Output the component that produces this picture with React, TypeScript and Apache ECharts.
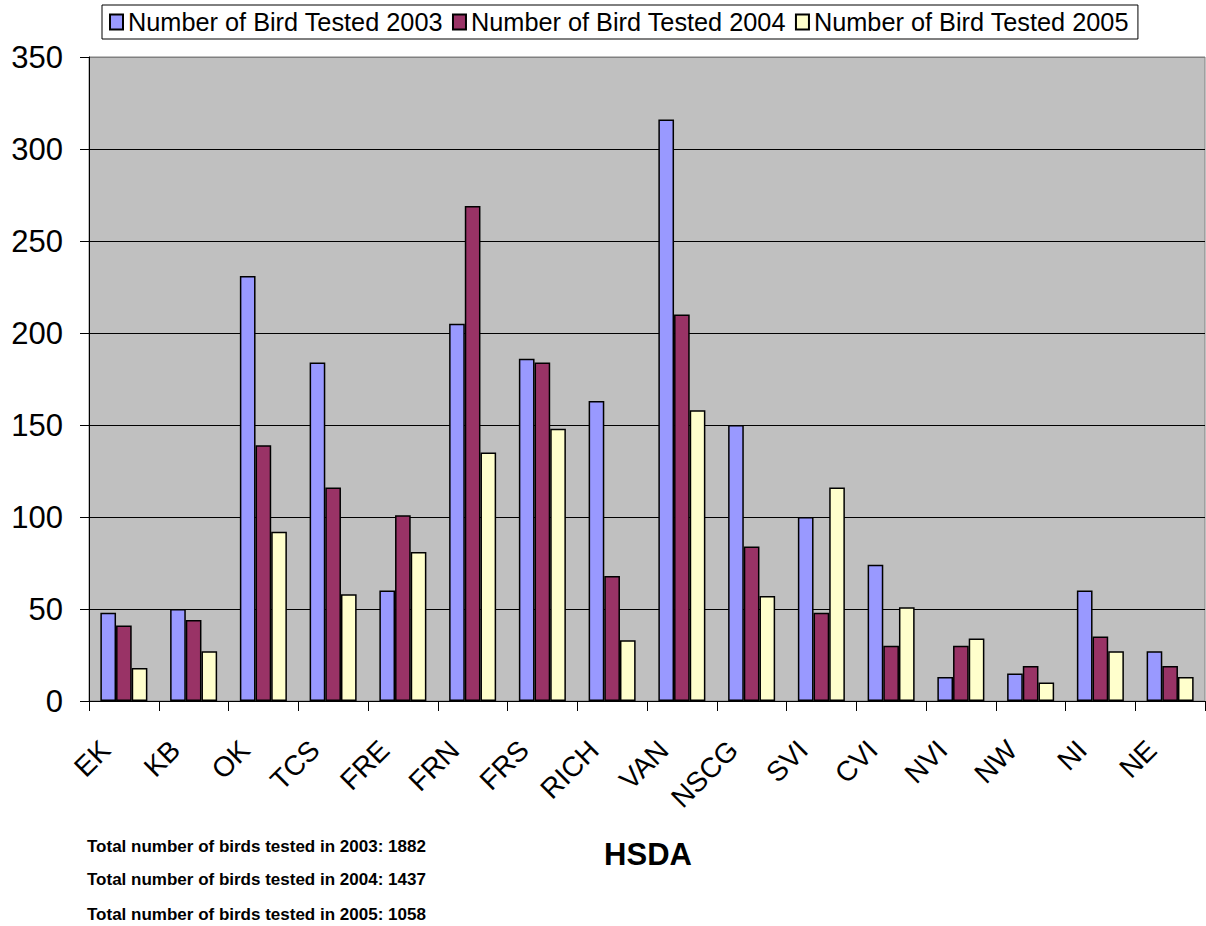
import React, { useEffect, useRef } from "react";
import * as echarts from "echarts";

const categories = ["EK", "KB", "OK", "TCS", "FRE", "FRN", "FRS", "RICH", "VAN", "NSCG", "SVI", "CVI", "NVI", "NW", "NI", "NE"];
const seriesNames = ["Number of Bird Tested 2003", "Number of Bird Tested 2004", "Number of Bird Tested 2005"];
const tested2003 = [48, 50, 231, 184, 60, 205, 186, 163, 316, 150, 100, 74, 13, 15, 60, 27];
const tested2004 = [41, 44, 139, 116, 101, 269, 184, 68, 210, 84, 48, 30, 30, 19, 35, 19];
const tested2005 = [18, 27, 92, 58, 81, 135, 148, 33, 158, 57, 116, 51, 34, 10, 27, 13];
const seriesColors = ["#9999FF", "#993366", "#FFFFCC"];
const footnotes = [
  "Total number of birds tested in 2003: 1882",
  "Total number of birds tested in 2004: 1437",
  "Total number of birds tested in 2005: 1058",
];
const xAxisTitle = "HSDA";

const FONT = "'Liberation Sans', Arial, sans-serif";

export default function App() {
  const ref = useRef<HTMLDivElement>(null);
  useEffect(() => {
    if (!ref.current) return;
    const chart = echarts.init(ref.current, null, { renderer: "svg" });
    const data = [tested2003, tested2004, tested2005];
    const footY = [846, 879, 914];
    chart.setOption({
      animation: false,
      backgroundColor: "#ffffff",
      textStyle: { fontFamily: FONT },
      legend: {
        left: 102,
        top: 5,
        padding: [4, 9, 4, 7],
        itemGap: 9,
        itemWidth: 13,
        itemHeight: 15,
        icon: "rect",
        borderColor: "#000",
        borderWidth: 1,
        textStyle: { fontSize: 25.3, color: "#000", fontFamily: FONT, lineHeight: 26 },
        data: seriesNames,
      },
      grid: {
        left: 89,
        right: 1,
        top: 57,
        bottom: 225,
        show: true,
        backgroundColor: "#C0C0C0",
        borderColor: "#808080",
        borderWidth: 1,
      },
      xAxis: {
        type: "category",
        data: categories,
        axisLine: { lineStyle: { color: "#000", width: 1 } },
        axisTick: { show: true, length: 10, lineStyle: { color: "#000" } },
        axisLabel: {
          rotate: 45,
          interval: 0,
          margin: 26,
          padding: [0, 26, 0, 0],
          fontSize: 28,
          color: "#000",
          fontFamily: FONT,
        },
      },
      yAxis: {
        type: "value",
        min: 0,
        max: 350,
        interval: 50,
        axisLine: { show: true, lineStyle: { color: "#000", width: 1 } },
        axisTick: { show: true, length: 9, lineStyle: { color: "#000" } },
        axisLabel: { fontSize: 31, color: "#000", margin: 26, fontFamily: FONT },
        splitLine: {
          show: true,
          lineStyle: {
            color: ["#000", "#000", "#000", "#000", "#000", "#000", "#000", "#808080"],
            width: 1,
          },
        },
      },
      series: seriesNames.map((name, i) => ({
        name,
        type: "bar",
        data: data[i],
        barGap: "0%",
        barCategoryGap: "32.6%",
        itemStyle: { color: seriesColors[i], borderColor: "#000", borderWidth: 1.5 },
      })),
      graphic: [
        {
          type: "text",
          x: 648,
          y: 854,
          style: {
            text: xAxisTitle,
            fontSize: 31,
            fontWeight: "bold",
            fontFamily: FONT,
            fill: "#000",
            align: "center",
            verticalAlign: "middle",
          },
        },
        ...footnotes.map((t, i) => ({
          type: "text",
          x: 87,
          y: footY[i],
          style: {
            text: t,
            fontSize: 17,
            fontWeight: "bold",
            fontFamily: FONT,
            fill: "#000",
            align: "left",
            verticalAlign: "middle",
          },
        })),
      ],
    });
    return () => chart.dispose();
  }, []);
  return (
    <div
      ref={ref}
      style={{ position: "fixed", left: 0, top: 0, width: 1206, height: 926, background: "#fff" }}
    />
  );
}
